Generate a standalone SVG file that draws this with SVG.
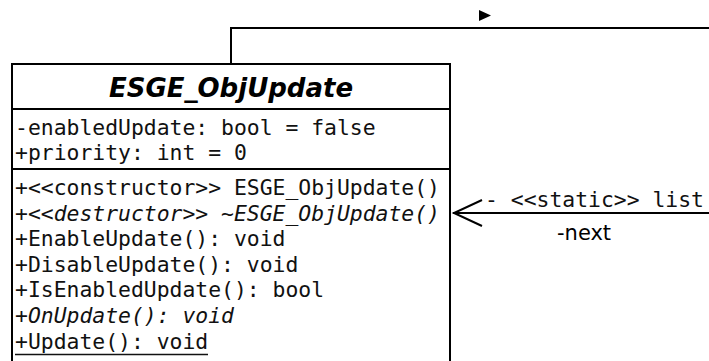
<svg xmlns="http://www.w3.org/2000/svg" width="709" height="361" viewBox="0 0 709 361">
  <defs>
    <style>
      .box { fill: #ffffff; stroke: #000000; stroke-width: 2; }
      .sep { stroke: #000000; stroke-width: 2; }
      .edge { fill: none; stroke: #000000; stroke-width: 2; }
      .title { font-family: "DejaVu Sans", "Liberation Sans", sans-serif; font-weight: bold; font-style: italic; font-size: 26px; fill: #000000; }
      .mono { font-family: "DejaVu Sans Mono", "Liberation Mono", monospace; font-size: 21.4px; fill: #111111; }
      .ital { font-style: italic; }
      .uline { stroke: #111111; stroke-width: 1.5; }
      .role { font-family: "DejaVu Sans", "Liberation Sans", sans-serif; font-size: 21px; fill: #000000; }
    </style>
  </defs>
  <rect x="0" y="0" width="709" height="361" fill="#ffffff"/>

  <!-- connectors -->
  <g id="connectors">
    <!-- self-link leaving the top of the class -->
    <path class="edge" d="M231,64 V28 H710"/>
    <polygon points="479,10 491,15.5 479,21" fill="#000000"/>
    <!-- static list association with open arrowhead -->
    <g id="assoc-next">
      <line class="edge" x1="710" y1="213" x2="453" y2="213"/>
      <path class="edge" d="M482,200 L454,213 L482,226"/>
      <text class="mono" x="704" y="206.5" text-anchor="end">- &lt;&lt;static&gt;&gt; list</text>
      <text class="role" x="557" y="240">-next</text>
    </g>
  </g>

  <!-- class ESGE_ObjUpdate -->
  <g id="ESGE_ObjUpdate">
    <rect class="box" x="12" y="64" width="438" height="320"/>
    <line class="sep" x1="12" y1="109" x2="450" y2="109"/>
    <line class="sep" x1="12" y1="169" x2="450" y2="169"/>
    <text class="title" x="231" y="96.5" text-anchor="middle">ESGE_ObjUpdate</text>
    <text class="mono" x="15" y="134.5">-enabledUpdate: bool = false</text>
    <text class="mono" x="15" y="160">+priority: int = 0</text>
    <text class="mono" x="15" y="195">+&lt;&lt;constructor&gt;&gt; ESGE_ObjUpdate()</text>
    <text class="mono ital" x="15" y="220.6">+&lt;&lt;destructor&gt;&gt; ~ESGE_ObjUpdate()</text>
    <text class="mono" x="15" y="246.2">+EnableUpdate(): void</text>
    <text class="mono" x="15" y="271.8">+DisableUpdate(): void</text>
    <text class="mono" x="15" y="297.4">+IsEnabledUpdate(): bool</text>
    <text class="mono ital" x="15" y="323">+OnUpdate(): void</text>
    <text class="mono" x="15" y="348.6">+Update(): void</text>
    <!-- static operation underline -->
    <line class="uline" x1="15" y1="354.5" x2="208" y2="354.5"/>
  </g>
</svg>
